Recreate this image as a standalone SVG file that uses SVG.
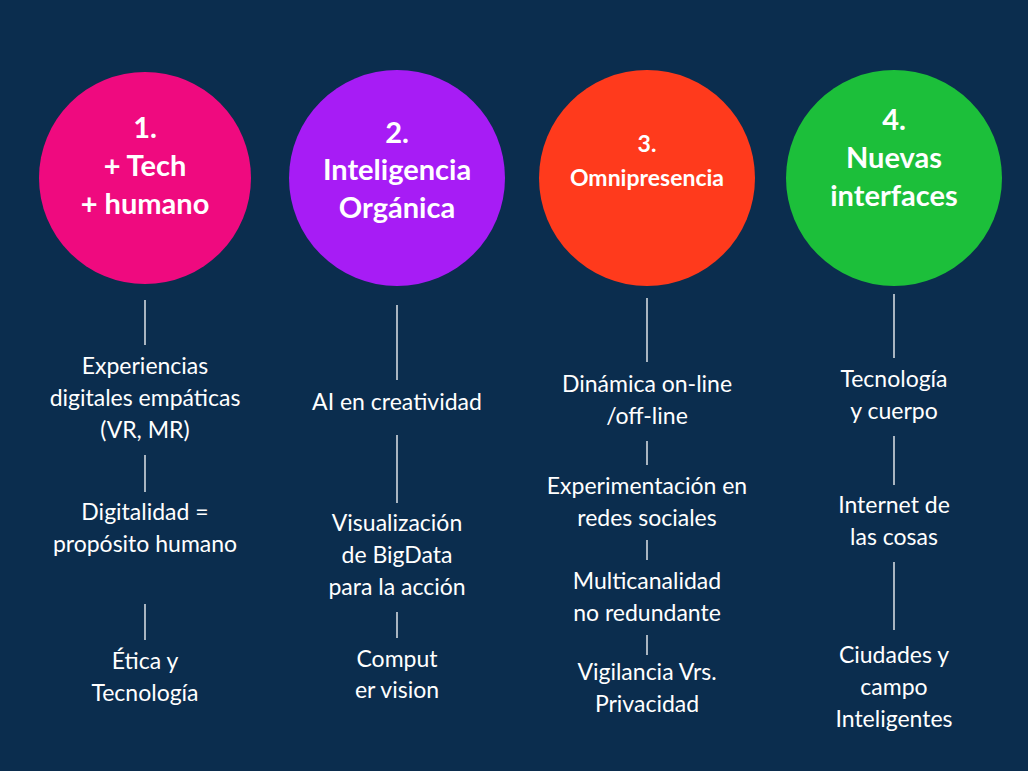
<svg xmlns="http://www.w3.org/2000/svg" width="1028" height="771" viewBox="0 0 1028 771">
<style>
text{fill:#fff;font-family:Lato,"Liberation Sans",sans-serif;text-anchor:middle}
.h{font-weight:bold;font-size:29px}
.h3{font-weight:bold;font-size:23px}
.t{font-size:23px}
line{stroke:#fff;stroke-width:1.3}
</style>
<rect width="1028" height="771" fill="#0b2d4e"/>
<g id="n1"><circle cx="145" cy="178" r="106" fill="#ef0a7f"/>
<text class="h" x="145" y="138">1.</text><text class="h" x="145" y="176">+ Tech</text><text class="h" x="145" y="214">+ humano</text></g>
<g id="n2"><circle cx="397" cy="178" r="108" fill="#a71cf5"/>
<text class="h" x="397" y="143">2.</text><text class="h" x="397" y="180">Inteligencia</text><text class="h" x="397" y="218">Orgánica</text></g>
<g id="n3"><circle cx="647" cy="178" r="108" fill="#ff3a1c"/>
<text class="h3" x="647" y="152">3.</text><text class="h3" x="647" y="186">Omnipresencia</text></g>
<g id="n4"><circle cx="894" cy="178" r="108" fill="#1cbf3a"/>
<text class="h" x="894" y="130">4.</text><text class="h" x="894" y="168">Nuevas</text><text class="h" x="894" y="206">interfaces</text></g>
<g id="connectors">
<line x1="145" y1="300" x2="145" y2="345"/><line x1="145" y1="455" x2="145" y2="492"/><line x1="145" y1="604" x2="145" y2="640"/>
<line x1="397" y1="305" x2="397" y2="380"/><line x1="397" y1="435" x2="397" y2="503"/><line x1="397" y1="612" x2="397" y2="638"/>
<line x1="647" y1="298" x2="647" y2="362"/><line x1="647" y1="441" x2="647" y2="465"/><line x1="647" y1="540" x2="647" y2="560"/><line x1="647" y1="635" x2="647" y2="655"/>
<line x1="894" y1="294" x2="894" y2="358"/><line x1="894" y1="436" x2="894" y2="485"/><line x1="894" y1="562" x2="894" y2="630"/>
</g>
<g id="items" class="t">
<text class="t" x="145" y="374">Experiencias</text><text class="t" x="145" y="406">digitales empáticas</text><text class="t" x="145" y="438">(VR, MR)</text>
<text class="t" x="145" y="520">Digitalidad =</text><text class="t" x="145" y="552">propósito humano</text>
<text class="t" x="145" y="669">Ética y</text><text class="t" x="145" y="701">Tecnología</text>
<text class="t" x="397" y="410">AI en creatividad</text>
<text class="t" x="397" y="531">Visualización</text><text class="t" x="397" y="563">de BigData</text><text class="t" x="397" y="595">para la acción</text>
<text class="t" x="397" y="667">Comput</text><text class="t" x="397" y="698">er vision</text>
<text class="t" x="647" y="392">Dinámica on-line</text><text class="t" x="647" y="424">/off-line</text>
<text class="t" x="647" y="494">Experimentación en</text><text class="t" x="647" y="526">redes sociales</text>
<text class="t" x="647" y="589">Multicanalidad</text><text class="t" x="647" y="621">no redundante</text>
<text class="t" x="647" y="680">Vigilancia Vrs.</text><text class="t" x="647" y="712">Privacidad</text>
<text class="t" x="894" y="387">Tecnología</text><text class="t" x="894" y="419">y cuerpo</text>
<text class="t" x="894" y="513">Internet de</text><text class="t" x="894" y="545">las cosas</text>
<text class="t" x="894" y="663">Ciudades y</text><text class="t" x="894" y="695">campo</text><text class="t" x="894" y="727">Inteligentes</text>
</g>
</svg>
